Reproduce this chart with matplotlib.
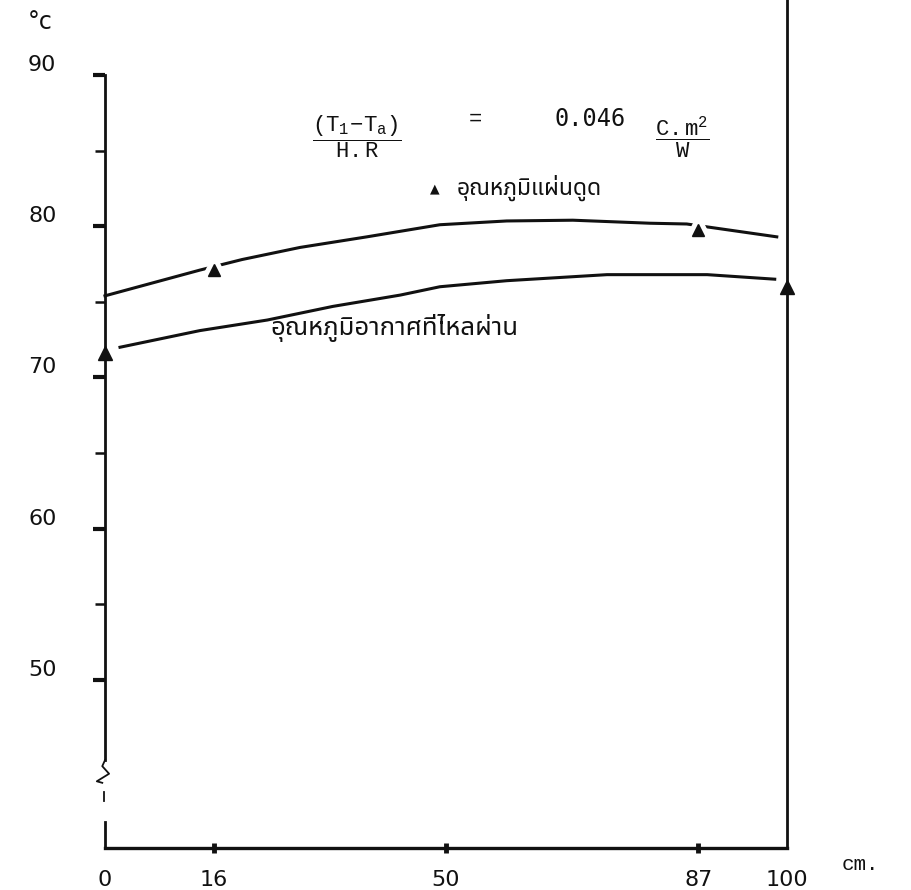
import matplotlib
matplotlib.use("Agg")
import matplotlib.pyplot as plt
import matplotlib.transforms as mtransforms
from matplotlib import font_manager

# ---------------- data ----------------
x_ticks = [0, 16, 50, 87, 100]
x_tick_labels = ["0", "16", "50", "87", "100"]
y_major = [50, 60, 70, 80, 90]
y_minor = [55, 65, 75, 85]

# absorber plate temperature (drawn curve + measured points)
plate_curve_x = [0, 13.9, 20.1, 28.6, 38.4, 49.1, 58.9, 68.6, 79.9, 85.3, 98.5]
plate_curve_y = [75.4, 77.1, 77.8, 78.6, 79.3, 80.1, 80.35, 80.4, 80.2, 80.15, 79.3]
plate_pts_x = [16, 87]
plate_pts_y = [77.1, 79.75]

# temperature of the air flowing through (drawn curve + measured points)
air_curve_x = [2.2, 13.9, 23.8, 33.4, 43.3, 49.1, 58.9, 73.6, 88.3, 98.2]
air_curve_y = [72.0, 73.1, 73.8, 74.7, 75.45, 76.0, 76.4, 76.8, 76.8, 76.5]
air_pts_x = [0, 100]
air_pts_y = [71.6, 76.0]

label_plate = "อุณหภูมิแผ่นดูด"
label_air = "อุณหภูมิอากาศที่ไหลผ่าน"
ratio_value = "0.046"

# ---------------- fonts ----------------
def find_thai_font():
    try:
        from fontTools.ttLib import TTFont
    except Exception:
        return None
    found = []
    for f in font_manager.fontManager.ttflist:
        try:
            tt = TTFont(f.fname, fontNumber=0, lazy=True)
            cmap = tt.getBestCmap()
            if cmap and 0x0E2D in cmap and 0x0E39 in cmap and 0x0E48 in cmap:
                found.append(f.name)
        except Exception:
            pass
    prefs = ["TlwgTypewriter", "Tlwg Typewriter", "Noto Sans Thai", "Noto Sans Thai Looped",
             "Loma", "Garuda", "Norasi", "Kinnari", "Sarabun"]
    for p in prefs:
        if p in found:
            return p
    return found[0] if found else None

thai = find_thai_font()
thai_family = ([thai] if thai else []) + ["DejaVu Sans"]

plt.rcParams["mathtext.fontset"] = "custom"
plt.rcParams["mathtext.tt"] = "Liberation Mono"
plt.rcParams["mathtext.rm"] = "Liberation Mono"
plt.rcParams["mathtext.it"] = "Liberation Mono"

W, H = 911, 890
fig = plt.figure(figsize=(W / 100, H / 100), dpi=100)
ax = fig.add_axes([105 / W, 1 - 848 / H, (787 - 105) / W, 848 / H])
ax.set_xlim(0, 100)
ax.set_ylim(38.89, 94.96)

ink = "#111111"

# spines
for s in ("top", "left"):
    ax.spines[s].set_visible(False)
ax.spines["right"].set_linewidth(2.0)
ax.spines["right"].set_color(ink)
ax.spines["bottom"].set_linewidth(2.4)
ax.spines["bottom"].set_color(ink)

# left axis drawn with a break (zig-zag) near the bottom
yt = ax.get_yaxis_transform()
ax.plot([0, 0], [44.7, 90], color=ink, lw=2.0, transform=yt, clip_on=False)
ax.plot([0, -0.004, 0.006, -0.012, -0.004],
        [44.7, 44.3, 43.8, 43.3, 43.2], color=ink, lw=1.3, transform=yt, clip_on=False)
ax.plot([-0.002, -0.002], [42.0, 42.6], color=ink, lw=1.3, transform=yt, clip_on=False)
ax.plot([0, 0], [38.89, 40.6], color=ink, lw=2.0, transform=yt, clip_on=False)

# ticks
ax.set_yticks(y_major)
ax.set_yticks(y_minor, minor=True)
ax.set_yticklabels([str(v) for v in y_major])
ax.tick_params(axis="y", which="major", direction="out", length=9, width=3.0,
               pad=26, labelsize=16, colors=ink)
ax.tick_params(axis="y", which="minor", direction="out", length=7, width=1.8, colors=ink)
ax.tick_params(axis="y", which="both", left=True, right=False)
for lab in ax.get_yticklabels():
    lab.set_family("DejaVu Sans")
    lab.set_transform(lab.get_transform() +
                      mtransforms.ScaledTranslation(0, 12 / 100, fig.dpi_scale_trans))

ax.set_xticks(x_ticks)
ax.set_xticklabels(x_tick_labels)
ax.tick_params(axis="x", direction="inout", length=7, width=3.5, pad=12,
               labelsize=16, colors=ink)
for lab in ax.get_xticklabels():
    lab.set_family("DejaVu Sans")
for t in (ax.xaxis.get_major_ticks()[0], ax.xaxis.get_major_ticks()[-1]):
    t.tick1line.set_visible(False)

# curves
ax.plot(plate_curve_x, plate_curve_y, color=ink, lw=2.2, zorder=2, clip_on=False,
        solid_joinstyle="round")
ax.plot(air_curve_x, air_curve_y, color=ink, lw=2.2, zorder=2, clip_on=False,
        solid_joinstyle="round")

# gaps around the plate points (pen lifted around marks)
ax.plot(plate_pts_x, plate_pts_y, linestyle="none", marker="^", ms=24,
        color="white", zorder=3)
ax.plot(plate_pts_x, plate_pts_y, linestyle="none", marker="^", ms=9,
        color=ink, zorder=4)
ax.plot(air_pts_x, air_pts_y, linestyle="none", marker="^", ms=10,
        color=ink, zorder=4, clip_on=False)

# formula
ax.text(36.9, 85.9, r"$\dfrac{\mathtt{(T_{1}\!-\!T_{a})}}{\mathtt{H.R}}$",
        fontsize=16, ha="center", va="center", color=ink)
ax.text(54.3, 87.1, "=", fontsize=16, ha="center", va="center",
        family="Liberation Mono", color=ink)
ax.text(71.1, 87.1, ratio_value, fontsize=17, ha="center", va="center",
        family="DejaVu Sans Mono", color=ink)
ax.text(84.6, 85.9, r"$\dfrac{\mathtt{C.m^{2}}}{\mathtt{W}}$",
        fontsize=16, ha="center", va="center", color=ink)

# curve labels
ax.text(48.4, 82.5, "▲", fontsize=9, ha="center", va="center", family="DejaVu Sans",
        color=ink)
ax.text(51.6, 82.1, label_plate, fontsize=16.5, ha="left", va="baseline",
        family=thai_family, color=ink)
ax.text(24.3, 72.8, label_air, fontsize=18.5, ha="left", va="baseline",
        family=thai_family, color=ink)

# units
ax.text(1.107, -0.02, "cm.", transform=ax.transAxes, fontsize=15, ha="center",
        va="center", family="Liberation Mono", color=ink)
fig.text(40 / W, 1 - 22 / H, "°c", fontsize=17, ha="center", va="center",
         family="DejaVu Sans", color=ink)

fig.savefig("out.png", dpi=100, facecolor="white")
